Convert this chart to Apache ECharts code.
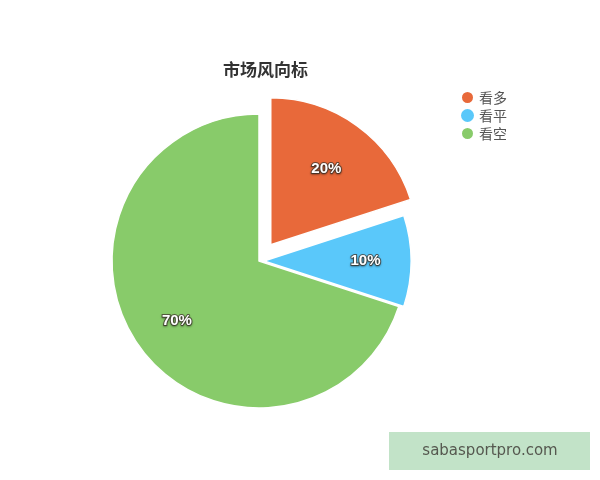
<!DOCTYPE html>
<html><head><meta charset="utf-8">
<script src="https://cdn.jsdelivr.net/npm/echarts@6/dist/echarts.min.js"></script>
<style>html,body{margin:0;padding:0;background:#fff}#c{width:600px;height:480px}</style>
</head><body><div id="c"></div>
<script>
const categories = ['看多', '看平', '看空'];
const values = [20, 10, 70];
const colors = ['#E8693A', '#5AC8FA', '#88CB6A'];
const titleText = '市场风向标';
const watermarkText = 'sabasportpro.com';

const CX = 259, CY = 261, R = 147;
const chart = echarts.init(document.getElementById('c'));

function makeData(visibleIdx, selectedIdx) {
  return categories.map((n, i) => {
    const vis = visibleIdx.indexOf(i) >= 0;
    return {
      name: n, value: values[i],
      selected: selectedIdx.indexOf(i) >= 0,
      itemStyle: vis ? { color: colors[i] } : { color: 'rgba(0,0,0,0)', borderWidth: 0 },
      label: { show: vis }
    };
  });
}

function pushOut(params) {
  const lr = params.labelRect;
  const lx = lr.x + lr.width / 2, ly = lr.y + lr.height / 2;
  const vx = lx - CX, vy = ly - CY;
  const d = Math.sqrt(vx * vx + vy * vy) || 1;
  const extra = params.dataIndex === 0 ? 0.17 * R - 7 : 0.17 * R;
  return { dx: vx / d * extra, dy: vy / d * extra };
}

const labelStyle = {
  show: true, position: 'inside', formatter: '{d}%',
  color: '#fff', fontSize: 15, fontWeight: 'bold', fontFamily: 'Liberation Sans, Arial, sans-serif',
  textBorderColor: 'rgba(70,60,50,0.75)', textBorderWidth: 2,
  textShadowColor: 'rgba(0,0,0,0.35)', textShadowBlur: 2, textShadowOffsetY: 1
};

const baseSeries = {
  type: 'pie', radius: [0, R], center: [CX, CY], startAngle: 90, clockwise: true,
  selectedMode: 'multiple', animation: false, silent: true,
  itemStyle: { borderColor: '#fff', borderWidth: 1.5 },
  label: labelStyle, labelLine: { show: false },
  emphasis: { disabled: true }, labelLayout: pushOut
};

chart.setOption({
  backgroundColor: '#fff',
  title: {
    text: titleText, left: 218, top: 56,
    textStyle: { fontSize: 17, fontWeight: 'bold', color: '#333', fontFamily: 'Noto Sans CJK SC' }
  },
  legend: {
    orient: 'vertical', left: 460, top: 90, padding: 0, icon: 'circle',
    itemWidth: 13, itemHeight: 13, itemGap: 3.5, itemTextGap: 13,
    textStyle: { fontSize: 14, color: '#555', fontFamily: 'Noto Sans CJK SC' },
    data: categories.map((n, i) => ({ name: n, itemStyle: { color: colors[i] } }))
  },
  series: [
    Object.assign({}, baseSeries, { selectedOffset: 20, data: makeData([0, 2], [0]) }),
    Object.assign({}, baseSeries, { selectedOffset: 5, data: makeData([1], [1]) })
  ],
  graphic: [
    { type: 'rect', shape: { x: 389, y: 432, width: 201, height: 38 }, style: { fill: '#C2E3C8' } },
    { type: 'text', x: 490, y: 451, style: { text: watermarkText, fill: '#55584f', fontSize: 15,
      fontFamily: 'DejaVu Sans, sans-serif', align: 'center', verticalAlign: 'middle' } }
  ]
});
</script></body></html>
